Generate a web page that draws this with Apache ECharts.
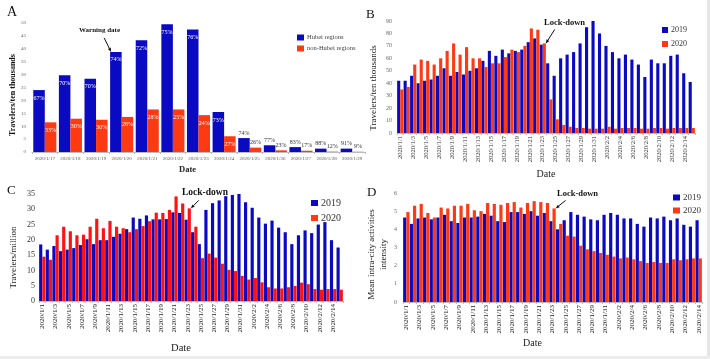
<!DOCTYPE html>
<html><head><meta charset="utf-8">
<script src="https://cdn.jsdelivr.net/npm/echarts@6/dist/echarts.min.js"></script>
<style>html,body{margin:0;padding:0;background:#fff}#c{width:710px;height:359px}</style>
</head><body><div id="c"></div>
<script>
// ---------- Panel A ----------
const catsA = ['2020/1/17','2020/1/18','2020/1/19','2020/1/20','2020/1/21','2020/1/22','2020/1/23','2020/1/24','2020/1/25','2020/1/26','2020/1/27','2020/1/28','2020/1/29'];
const hubei = [24, 29.7, 28.4, 38.8, 43.3, 49.5, 47.5, 15.5, 5.4, 2.6, 1.9, 1.3, 1.3];
const nonHubei = [11.5, 12.9, 12.5, 13.6, 16.5, 16.5, 14.3, 6.1, 1.7, 0.65, 0.5, 0.15, 0.1];
const hubeiPct = ['67%','70%','70%','74%','72%','75%','76%','73%','74%','77%','83%','88%','91%'];
const nonHubeiPct = ['33%','30%','30%','26%','28%','25%','24%','27%','26%','23%','17%','12%','9%'];
// ---------- Panel B ----------
const datesB = ['2020/1/1','2020/1/2','2020/1/3','2020/1/4','2020/1/5','2020/1/6','2020/1/7','2020/1/8','2020/1/9','2020/1/10','2020/1/11','2020/1/12','2020/1/13','2020/1/14','2020/1/15','2020/1/16','2020/1/17','2020/1/18','2020/1/19','2020/1/20','2020/1/21','2020/1/22','2020/1/23','2020/1/24','2020/1/25','2020/1/26','2020/1/27','2020/1/28','2020/1/29','2020/1/30','2020/1/31','2020/2/1','2020/2/2','2020/2/3','2020/2/4','2020/2/5','2020/2/6','2020/2/7','2020/2/8','2020/2/9','2020/2/10','2020/2/11','2020/2/12','2020/2/13','2020/2/14','2020/2/15'];
const b2019 = [42,42,46,40,42,43,46,52,46,49,47,50,52,58,66,62,67,64,66,67,73,76,71,56,46,60,63,65,72,85,91,80,70,65,60,63,59,55,45,59,56,56,62,63,48,41];
const b2020 = [35,37,55,59,58,55,60,66,72,63,69,60,60,53,56,56,61,67,65,70,84,83,72,27,11,6.5,5,4,4,3.5,3.5,3.5,5,3.5,4,4,4,3.5,3.5,4,4,3.5,4,4,4,4];
// ---------- Panel C ----------
const datesC = ['2020/1/1','2020/1/2','2020/1/3','2020/1/4','2020/1/5','2020/1/6','2020/1/7','2020/1/8','2020/1/9','2020/1/10','2020/1/11','2020/1/12','2020/1/13','2020/1/14','2020/1/15','2020/1/16','2020/1/17','2020/1/18','2020/1/19','2020/1/20','2020/1/21','2020/1/22','2020/1/23','2020/1/24','2020/1/25','2020/1/26','2020/1/27','2020/1/28','2020/1/29','2020/1/30','2020/1/31','2020/2/1','2020/2/2','2020/2/3','2020/2/4','2020/2/5','2020/2/6','2020/2/7','2020/2/8','2020/2/9','2020/2/10','2020/2/11','2020/2/12','2020/2/13','2020/2/14','2020/2/15'];
const c2019 = [18.5,16.8,18,16.3,16.8,17.3,18.3,20.2,18.6,19.9,19.9,21,22,23.5,27.3,26.9,28,26.7,26.7,26.8,29,28.8,26.6,22.5,18.6,29.8,32,32.9,34.3,34.7,35,32.3,30.5,27.3,25.3,26.3,24,22.5,18.6,21.5,23.1,22.2,25,25.8,19.9,17.5];
const c2020 = [14.5,13.5,21.5,24.3,22.8,21.5,21.7,24.3,26.9,23.8,26.2,24.3,23.8,22.5,23.5,24.5,26.1,28.9,28.8,29.8,34.2,31.9,30.3,24.3,14,15.5,14.2,12.2,10.2,9.8,8.2,7,7.5,6.1,4.5,4.1,4.1,4.5,4.9,6,5.5,3.9,3.7,3.9,3.9,3.7];
// ---------- Panel D ----------
const datesD = ['2020/1/1','2020/1/2','2020/1/3','2020/1/4','2020/1/5','2020/1/6','2020/1/7','2020/1/8','2020/1/9','2020/1/10','2020/1/11','2020/1/12','2020/1/13','2020/1/14','2020/1/15','2020/1/16','2020/1/17','2020/1/18','2020/1/19','2020/1/20','2020/1/21','2020/1/22','2020/1/23','2020/1/24','2020/1/25','2020/1/26','2020/1/27','2020/1/28','2020/1/29','2020/1/30','2020/1/31','2020/2/1','2020/2/2','2020/2/3','2020/2/4','2020/2/5','2020/2/6','2020/2/7','2020/2/8','2020/2/9','2020/2/10','2020/2/11','2020/2/12','2020/2/13','2020/2/14'];
const d2019 = [4.65,4.3,4.6,4.65,4.55,4.65,4.8,4.45,4.35,4.65,4.65,4.7,4.85,4.75,4.45,4.4,4.95,4.95,4.85,5.0,4.75,4.9,4.45,4.0,4.5,4.95,4.8,4.7,4.55,4.5,4.8,4.9,4.8,4.6,4.6,4.3,4.15,4.65,4.6,4.7,4.5,4.6,4.25,4.15,4.5];
const d2020 = [4.95,5.3,5.4,4.9,4.65,5.2,5.15,5.3,5.3,5.4,5.05,5.0,5.45,5.4,5.35,5.45,5.5,5.2,5.45,5.55,5.5,5.45,5.15,4.3,3.65,3.6,3.1,2.9,2.8,2.7,2.6,2.5,2.4,2.45,2.35,2.25,2.15,2.2,2.15,2.15,2.35,2.3,2.35,2.4,2.4];

const SERIF = '"Liberation Serif","DejaVu Serif",serif';
const BLUE = '#0a0ac2', RED = '#ff3a12', REDC = '#ff1212';

const chart = echarts.init(document.getElementById('c'), null, {renderer:'canvas'});

function lblA(txt, inside){
  return inside ? {show:true, position:'insideTop', distance:5, color:'#fff', fontSize:6, fontFamily:SERIF, formatter:txt}
                : {show:true, position:'top', distance:2, color:'#333', fontSize:6, fontFamily:SERIF, formatter:txt};
}
function gridDef(l,t,w,h){ return {left:l, top:t, width:w, height:h, containLabel:false, outerBoundsMode:'none'}; }
function xCat(idx, data, opts){
  return Object.assign({type:'category', gridIndex:idx, data:data,
    axisLine:{lineStyle:{color:'#bbb', width:1}},
    axisTick:{show:true, length:2, interval:0, lineStyle:{color:'#bbb'}},
    axisLabel:{rotate:90, interval:1, fontSize:6.5, color:'#333', margin:3, fontFamily:SERIF},
    nameLocation:'middle'}, opts);
}
function yVal(idx, max, interval, opts){
  return Object.assign({type:'value', gridIndex:idx, min:0, max:max, interval:interval,
    splitLine:{show:false}, axisLine:{show:false}, axisTick:{show:false},
    axisLabel:{fontSize:6, color:'#667', margin:5, fontFamily:SERIF},
    nameLocation:'middle', nameRotate:90}, opts);
}

const option = {
  animation:false,
  backgroundColor:'#fff',
  textStyle:{fontFamily:SERIF},
  grid:[ gridDef(32,23,333,129), gridDef(397,21,298,112), gridDef(39,194,304,107), gridDef(403,193,299,109) ],
  xAxis:[
    xCat(0, catsA, {axisLabel:{rotate:0, interval:0, fontSize:5, color:'#555', margin:4, fontFamily:SERIF},
      axisTick:{show:true, length:2, lineStyle:{color:'#bbb'}},
      name:'Date', nameGap:13, nameTextStyle:{fontSize:8.5, fontWeight:'bold', color:'#222', fontFamily:SERIF, padding:[0,22,0,0]}}),
    xCat(1, datesB, {name:'Date', nameGap:36, nameTextStyle:{fontSize:10, color:'#222', fontFamily:SERIF}}),
    xCat(2, datesC, {axisLabel:{rotate:90, interval:1, fontSize:7, color:'#222', margin:3, fontFamily:SERIF},
      name:'Date', nameGap:42, nameTextStyle:{fontSize:10.5, color:'#222', fontFamily:SERIF, padding:[0,20,0,0]}}),
    xCat(3, datesD, {axisLabel:{rotate:90, interval:1, fontSize:7, color:'#222', margin:3, fontFamily:SERIF},
      name:'Date', nameGap:36, nameTextStyle:{fontSize:10, color:'#222', fontFamily:SERIF, padding:[0,40,0,0]}})
  ],
  yAxis:[
    yVal(0, 50, 5, {axisLabel:{fontSize:5, color:'#666', margin:6, fontFamily:SERIF},
      name:'Travelers/ten thousands', nameGap:13, nameTextStyle:{fontSize:8, fontWeight:'bold', color:'#111', fontFamily:SERIF, padding:[0,15,0,0]}}),
    yVal(1, 90, 10, {name:'Travelers/ten thousands', nameGap:19, nameTextStyle:{fontSize:9, color:'#222', fontFamily:SERIF, padding:[0,22,0,0]}}),
    yVal(2, 35, 5, {axisLabel:{fontSize:8, color:'#333', margin:4, fontFamily:SERIF},
      name:'Travelers/million', nameGap:21, nameTextStyle:{fontSize:9, color:'#222', fontFamily:SERIF, padding:[0,20,0,0]}}),
    yVal(3, 6, 1, {axisLabel:{fontSize:6, color:'#667', margin:6, fontFamily:SERIF},
      name:'Mean intra-city activities\nintensity', nameGap:13, nameTextStyle:{fontSize:9, lineHeight:12, color:'#222', fontFamily:SERIF, padding:[0,14,0,0]}})
  ],
  legend:[
    {left:292, top:29, orient:'vertical', itemWidth:7, itemHeight:6, itemGap:4, icon:'rect',
     textStyle:{fontSize:6.5, color:'#444', fontFamily:SERIF, padding:[0,0,0,-2]}, data:['Hubei regions','non-Hubei regions']},
    {left:657, top:21, orient:'vertical', itemWidth:6, itemHeight:6, itemGap:6, icon:'rect',
     textStyle:{fontSize:8, color:'#333', fontFamily:SERIF, padding:[0,0,0,-2]}, data:['2019','2020']},
    {left:306, top:193, orient:'vertical', itemWidth:7, itemHeight:6, itemGap:5, icon:'rect',
     textStyle:{fontSize:10, color:'#333', fontFamily:SERIF, padding:[0,0,0,-2]}, data:['2019','2020']},
    {left:673, top:193, orient:'vertical', itemWidth:7, itemHeight:6, itemGap:4, icon:'rect', padding:0,
     textStyle:{fontSize:9, color:'#333', fontFamily:SERIF, padding:[0,0,0,-2]}, data:['2019','2020']}
  ],
  series:[
    {type:'bar', name:'Hubei regions', xAxisIndex:0, yAxisIndex:0, barGap:'0%', barCategoryGap:'10%',
     itemStyle:{color:BLUE}, data:hubei.map((v,i)=>({value:v, label:lblA(hubeiPct[i], i<8)}))},
    {type:'bar', name:'non-Hubei regions', xAxisIndex:0, yAxisIndex:0, barGap:'0%', barCategoryGap:'10%',
     itemStyle:{color:RED}, data:nonHubei.map((v,i)=>({value:v, label:lblA(nonHubeiPct[i], i<8)}))},
    {type:'bar', name:'2019', xAxisIndex:1, yAxisIndex:1, barGap:'0%', barCategoryGap:'4%', itemStyle:{color:BLUE}, data:b2019},
    {type:'bar', name:'2020', xAxisIndex:1, yAxisIndex:1, barGap:'0%', barCategoryGap:'4%', itemStyle:{color:RED}, data:b2020},
    {type:'bar', name:'2019', xAxisIndex:2, yAxisIndex:2, barGap:'0%', barCategoryGap:'4%', itemStyle:{color:BLUE}, data:c2019},
    {type:'bar', name:'2020', xAxisIndex:2, yAxisIndex:2, barGap:'0%', barCategoryGap:'4%', itemStyle:{color:REDC}, data:c2020},
    {type:'bar', name:'2019', xAxisIndex:3, yAxisIndex:3, barGap:'0%', barCategoryGap:'4%', itemStyle:{color:BLUE}, data:d2019},
    {type:'bar', name:'2020', xAxisIndex:3, yAxisIndex:3, barGap:'0%', barCategoryGap:'4%', itemStyle:{color:RED}, data:d2020}
  ]
};
chart.setOption(option);

// annotation arrows anchored to bar tops via the axes
function px(g, cat, val){ return chart.convertToPixel({xAxisIndex:g, yAxisIndex:g}, [cat, val]); }
function arrow(end, dx, dy){
  const sx = end[0]+dx, sy = end[1]+dy;
  const L = Math.hypot(dx,dy), ux = -dx/L, uy = -dy/L;
  const hx = end[0]-ux*4, hy = end[1]-uy*4;
  const nx = -uy*1.6, ny = ux*1.6;
  return [
    {type:'line', shape:{x1:sx,y1:sy,x2:hx,y2:hy}, style:{stroke:'#111', lineWidth:1}, z:50},
    {type:'polygon', shape:{points:[[end[0],end[1]],[hx+nx,hy+ny],[hx-nx,hy-ny]]}, style:{fill:'#111'}, z:50}
  ];
}
const cwA = 333/catsA.length, cwB = 298/datesB.length, cwC = 304/datesC.length, cwD = 299/datesD.length;
const pA = px(0, '2020/1/20', hubei[3]); const eA = [pA[0]-cwA*0.45+1, pA[1]];
const pB = px(1, '2020/1/23', b2020[22]); const eB = [pB[0]+cwB*0.47, pB[1]];
const pC = px(2, '2020/1/23', c2020[22]); const eC = [pC[0]+cwC*0.47, pC[1]];
const pD = px(3, '2020/1/23', d2020[22]); const eD = [pD[0]+cwD*0.47, pD[1]];

const T = (txt, x, y, size, weight)=>({type:'text', left:x, top:y, z:60,
  style:{text:txt, fontSize:size, fontWeight:weight||'normal', fontFamily:SERIF, fill:'#111'}});

chart.setOption({graphic:[
  T('A', 7, 5, 14),
  T('B', 366, 8, 13),
  T('C', 7, 184, 13),
  T('D', 367, 186, 13),
  T('Warning date', 79, 27, 7, 'bold'),
  T('Lock-down', 544, 18, 8.5, 'bold'),
  T('Lock-down', 182, 188, 9.5, 'bold'),
  T('Lock-down', 557, 189, 8.5, 'bold'),
  ...arrow(eA, -7, -14),
  ...arrow(eB, 9, -14),
  ...arrow(eC, 8, -8),
  ...arrow(eD, 10, -8),
  {type:'rect', shape:{x:707, y:0, width:3, height:359}, style:{fill:'#e6e6e6'}, z:70},
  {type:'rect', shape:{x:0, y:356, width:710, height:3}, style:{fill:'#ececec'}, z:70}
]});
</script></body></html>
